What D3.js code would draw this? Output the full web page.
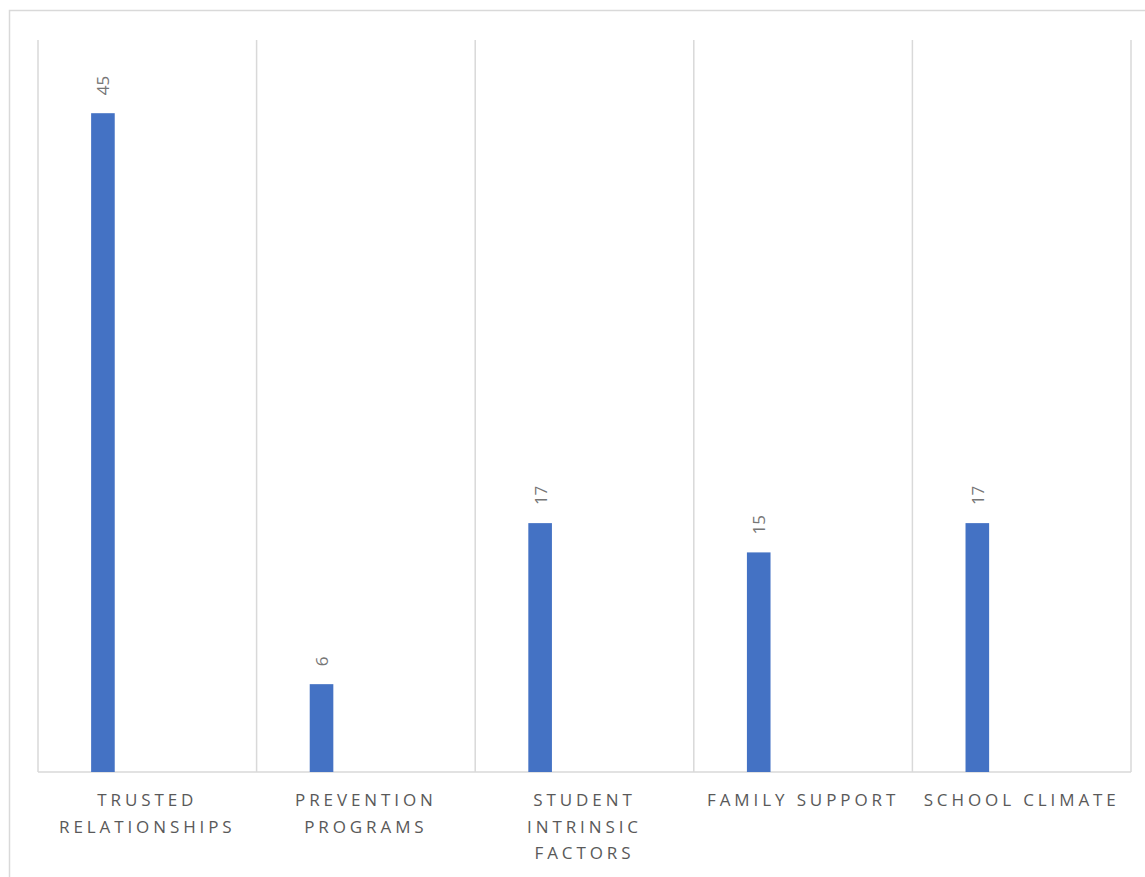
<!DOCTYPE html>
<html>
<head>
<meta charset="utf-8">
<script src="https://cdn.jsdelivr.net/npm/d3@7"></script>
<style>
  html, body { margin: 0; padding: 0; background: #fff; }
  svg { display: block; }
</style>
</head>
<body>
<svg id="chart" width="1145" height="877"></svg>
<script>
const categories = ["TRUSTED RELATIONSHIPS", "PREVENTION PROGRAMS", "STUDENT INTRINSIC FACTORS", "FAMILY SUPPORT", "SCHOOL CLIMATE"];
const values = [45, 6, 17, 15, 17];
const yDomain = [0, 50];

const svg = d3.select("#chart");
const plot = { left: 38, right: 1131, top: 40, bottom: 772 };
const FONT = "'Open Sans', 'Liberation Sans', sans-serif";
const GRID = "#d9d9d9";
const TEXT = "#595959";

// outer border of the chart area (extends past the window)
svg.append("rect")
  .attr("x", 9.5).attr("y", 10.5)
  .attr("width", 1160).attr("height", 900)
  .attr("fill", "none").attr("stroke", GRID).attr("stroke-width", 1.5);

const x = d3.scaleBand().domain(categories).range([plot.left, plot.right]).paddingInner(0).paddingOuter(0);
const y = d3.scaleLinear().domain(yDomain).range([plot.bottom, plot.top]);

// vertical category gridlines
const bounds = categories.map(c => x(c)).concat([plot.right]);
svg.append("g").selectAll("line").data(bounds).join("line")
  .attr("x1", d => d).attr("x2", d => d)
  .attr("y1", plot.top).attr("y2", plot.bottom)
  .attr("stroke", GRID).attr("stroke-width", 1.5);

// baseline
svg.append("line")
  .attr("x1", plot.left).attr("x2", plot.right)
  .attr("y1", y(0)).attr("y2", y(0))
  .attr("stroke", GRID).attr("stroke-width", 1.5);

// bars (first series slot of each category)
const barOffset = x.bandwidth() * 0.243;
const barWidth = x.bandwidth() * 0.108;
svg.append("g").selectAll("rect").data(categories).join("rect")
  .attr("x", d => x(d) + barOffset)
  .attr("y", (d, i) => y(values[i]))
  .attr("width", barWidth)
  .attr("height", (d, i) => y(0) - y(values[i]))
  .attr("fill", "#4472C4");

// value labels, rotated
svg.append("g").selectAll("text").data(categories).join("text")
  .attr("transform", (d, i) => `translate(${x(d) + barOffset + barWidth / 2},${y(values[i]) - 18}) rotate(-90)`)
  .attr("text-anchor", "start")
  .attr("dominant-baseline", "central")
  .style("font-family", FONT)
  .style("font-size", "17px")
  .style("fill", "#767676")
  .text((d, i) => values[i]);

// category labels with wrapping
const LS = 3.9;
const labelG = svg.append("g");
categories.forEach(c => {
  const t = labelG.append("text")
    .attr("text-anchor", "middle")
    .style("font-family", FONT)
    .style("font-size", "17px")
    .style("letter-spacing", LS + "px")
    .style("fill", TEXT);
  const words = c.split(" ");
  const maxW = x.bandwidth() - 6;
  let lines = [], cur = [];
  const probe = t.append("tspan");
  words.forEach(w => {
    const test = cur.concat([w]).join(" ");
    probe.text(test);
    if (probe.node().getComputedTextLength() > maxW && cur.length) {
      lines.push(cur.join(" "));
      cur = [w];
    } else cur.push(w);
  });
  lines.push(cur.join(" "));
  probe.remove();
  lines.forEach((ln, i) => {
    t.append("tspan")
      .attr("x", x(c) + x.bandwidth() / 2)
      .attr("y", 806 + i * 26.5)
      .text(ln);
  });
});
</script>
</body>
</html>
